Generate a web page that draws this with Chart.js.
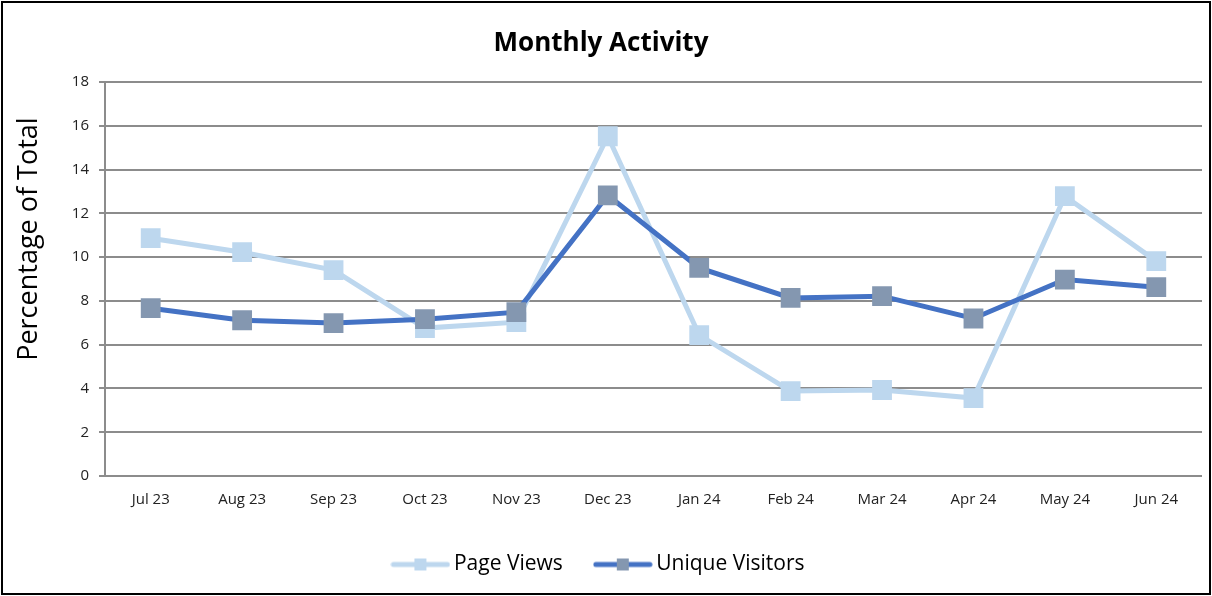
<!DOCTYPE html>
<html>
<head>
<meta charset="utf-8">
<script src="https://cdn.jsdelivr.net/npm/chart.js@4.4.0/dist/chart.umd.min.js"></script>
<style>
html, body { margin: 0; padding: 0; background: #fff; }
#wrap { width: 1212px; height: 596px; }
</style>
</head>
<body>
<div id="wrap"><canvas id="activityChart" width="1212" height="596"></canvas></div>
<script>
const months = ["Jul 23", "Aug 23", "Sep 23", "Oct 23", "Nov 23", "Dec 23",
                "Jan 24", "Feb 24", "Mar 24", "Apr 24", "May 24", "Jun 24"];
const pageViews = [10.87, 10.23, 9.41, 6.76, 7.03, 15.53, 6.44, 3.88, 3.93, 3.56, 12.79, 9.82];
const uniqueVisitors = [7.67, 7.12, 6.99, 7.17, 7.49, 12.83, 9.51, 8.14, 8.22, 7.20, 8.98, 8.63];
const yMin = 0;
const yMax = 18;
const yStep = 2;

const FONT = "'Open Sans', 'Noto Sans', sans-serif";
const LIGHT = "#BDD7EE";
const DARK_LINE = "#4472C4";
const DARK_MARK = "#8497B0";
const GRID = "#8c8c8c";

// legend symbol: line with a small square in the middle
function legendMarker(lineColor, boxColor) {
    const c = document.createElement('canvas');
    c.width = 60;
    c.height = 16;
    const ctx = c.getContext('2d');
    ctx.strokeStyle = lineColor;
    ctx.lineWidth = 5;
    ctx.lineCap = 'round';
    ctx.beginPath();
    ctx.moveTo(3, 8);
    ctx.lineTo(57, 8);
    ctx.stroke();
    ctx.fillStyle = boxColor;
    ctx.fillRect(24, 2, 12, 12);
    return c;
}

const framePlugin = {
    id: 'frame',
    beforeDraw(chart) {
        const ctx = chart.ctx;
        ctx.save();
        ctx.fillStyle = '#fff';
        ctx.fillRect(0, 0, chart.width, chart.height);
        ctx.restore();
    },
    afterDraw(chart) {
        const ctx = chart.ctx;
        const area = chart.chartArea;
        ctx.save();
        ctx.strokeStyle = '#000';
        ctx.lineWidth = 2;
        ctx.strokeRect(2, 2, chart.width - 4, chart.height - 4);
        // y axis title, sits a bit above the middle of the plot like the original
        ctx.translate(29, (area.top + area.bottom) / 2 - 40);
        ctx.rotate(-Math.PI / 2);
        ctx.fillStyle = '#000';
        ctx.font = "27px " + FONT;
        ctx.textAlign = 'center';
        ctx.textBaseline = 'middle';
        ctx.fillText('Percentage of Total', 0, 0);
        ctx.restore();
    }
};

const markers = {
    pageViews: legendMarker(LIGHT, LIGHT),
    uniqueVisitors: legendMarker(DARK_LINE, DARK_MARK)
};

new Chart(document.getElementById('activityChart'), {
    type: 'line',
    data: {
        labels: months,
        datasets: [
            {
                label: 'Page Views',
                data: pageViews,
                borderColor: LIGHT,
                backgroundColor: LIGHT,
                borderWidth: 5,
                pointStyle: 'rect',
                pointRadius: 14,
                pointBorderWidth: 0,
                pointBackgroundColor: LIGHT,
                order: 1,
                legendMarker: markers.pageViews
            },
            {
                label: 'Unique Visitors',
                data: uniqueVisitors,
                borderColor: DARK_LINE,
                backgroundColor: DARK_MARK,
                borderWidth: 5,
                pointStyle: 'rect',
                pointRadius: 14,
                pointBorderWidth: 0,
                pointBackgroundColor: DARK_MARK,
                order: 0,
                legendMarker: markers.uniqueVisitors
            }
        ]
    },
    options: {
        responsive: false,
        animation: false,
        events: [],
        layout: {
            autoPadding: false,
            padding: { left: 0, right: 10, top: 0, bottom: 11 }
        },
        plugins: {
            title: {
                display: true,
                text: 'Monthly Activity',
                color: '#000',
                font: { family: FONT, size: 26, weight: 'bold' },
                padding: { top: 28, bottom: 23 }
            },
            legend: {
                position: 'bottom',
                labels: {
                    usePointStyle: true,
                    pointStyleWidth: 46,
                    padding: 37,
                    color: '#000',
                    font: { family: FONT, size: 21 },
                    generateLabels(chart) {
                        return chart.data.datasets.map((ds, i) => ({
                            text: ds.label,
                            pointStyle: ds.legendMarker,
                            fillStyle: ds.backgroundColor,
                            strokeStyle: ds.borderColor,
                            lineWidth: 0,
                            hidden: false,
                            datasetIndex: i,
                            fontColor: '#000'
                        }));
                    }
                }
            },
            tooltip: { enabled: false }
        },
        scales: {
            x: {
                offset: true,
                grid: { display: false, offset: true },
                border: { display: false },
                afterFit(scale) {
                    scale.height = 41;
                },
                ticks: {
                    color: '#222',
                    padding: 7,
                    maxRotation: 0,
                    font: { family: FONT, size: 15 }
                }
            },
            y: {
                min: yMin,
                max: yMax,
                afterFit(scale) {
                    scale.width = 105;
                },
                border: { display: true, color: GRID, width: 2 },
                grid: { color: GRID, lineWidth: 2, tickLength: 6 },
                ticks: {
                    stepSize: yStep,
                    color: '#222',
                    padding: 10,
                    font: { family: FONT, size: 15 }
                }
            }
        }
    },
    plugins: [framePlugin]
});
</script>
</body>
</html>
